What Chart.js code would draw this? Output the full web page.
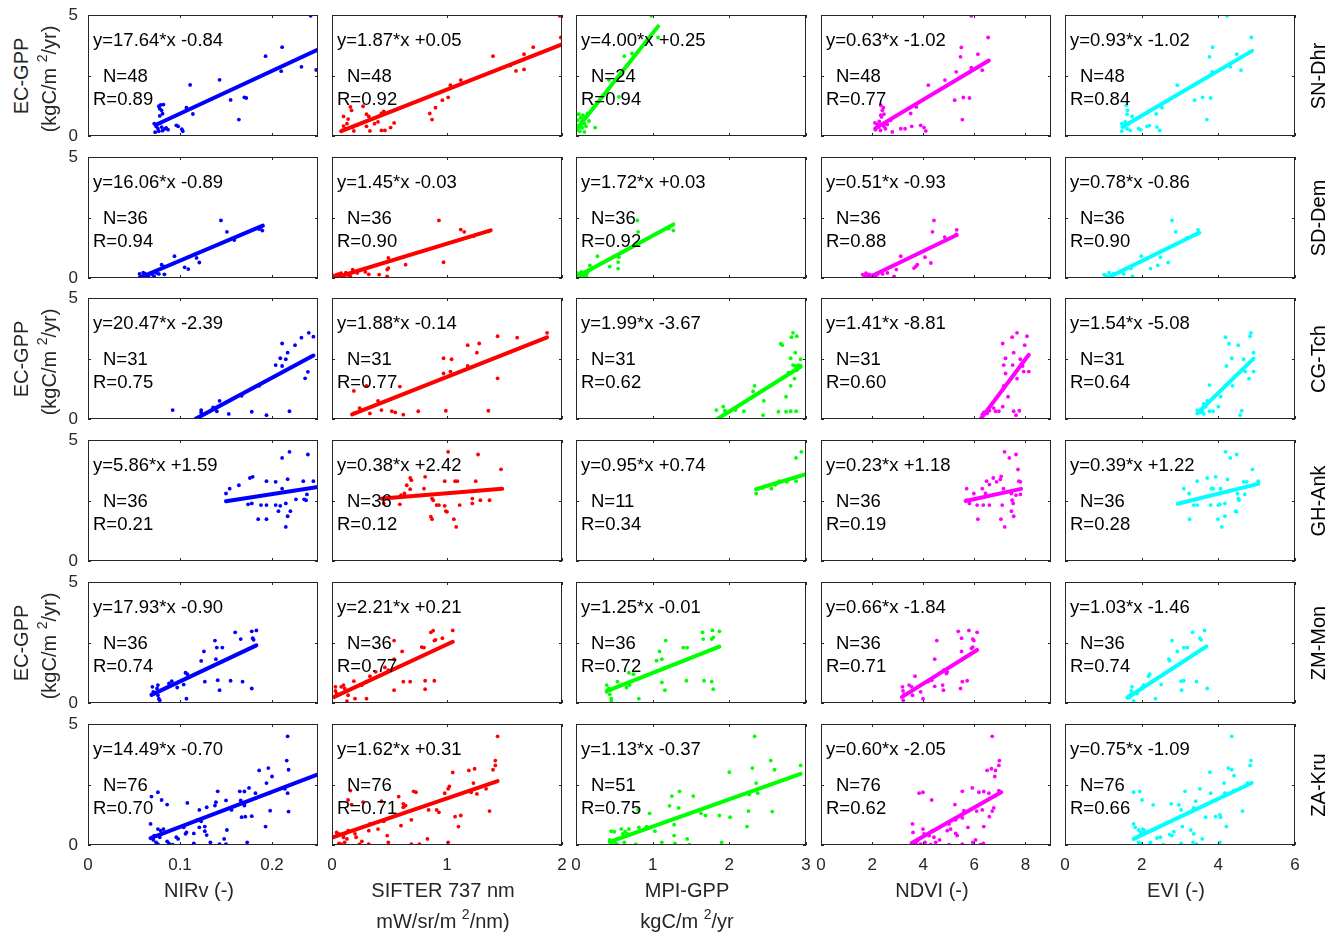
<!DOCTYPE html>
<html>
<head>
<meta charset="utf-8">
<title>EC-GPP vs satellite indices</title>
<script src="https://cdn.jsdelivr.net/npm/chart.js@4.4.1/dist/chart.umd.min.js"></script>
<style>
  html, body { margin: 0; padding: 0; background: #fff; }
  #fig { position: relative; width: 1340px; height: 936px; overflow: hidden;
         font-family: "Liberation Sans", Arial, Helvetica, sans-serif; color: #262626; }
  #fig canvas { position: absolute; pointer-events: none; }
  .lbl { position: absolute; white-space: nowrap; font-size: 20px; line-height: 1;
         transform: translate(-50%, -50%); }
  .rot { transform: translate(-50%, -50%) rotate(-90deg); }
  .lbl sup { font-size: 14px; vertical-align: 9px; line-height: 0; }
</style>
</head>
<body>
<div id="fig"></div>
<script>
// sites (rows) and predictors (columns)
var sites = ['SN-Dhr', 'SD-Dem', 'CG-Tch', 'GH-Ank', 'ZM-Mon', 'ZA-Kru'];
var xTitles = [
  ['NIRv (-)'],
  ['SIFTER 737 nm', 'mW/sr/m <sup>2</sup>/nm)'],
  ['MPI-GPP', 'kgC/m <sup>2</sup>/yr'],
  ['NDVI (-)'],
  ['EVI (-)']
];
var colors = ['#0000ff', '#ff0000', '#00ff00', '#ff00ff', '#00ffff'];

// axes
var xMax = [0.25, 2, 3, 9, 6];
var xTicks = [[0, 0.1, 0.2], [0, 1, 2], [0, 1, 2, 3], [0, 2, 4, 6, 8], [0, 2, 4, 6]];
var yTicks = [0, 2.5, 5];

// fit statistics per site (one value per column)
var slopes = [
  [17.64, 1.87, 4.00, 0.63, 0.93],
  [16.06, 1.45, 1.72, 0.51, 0.78],
  [20.47, 1.88, 1.99, 1.41, 1.54],
  [5.86, 0.38, 0.95, 0.23, 0.39],
  [17.93, 2.21, 1.25, 0.66, 1.03],
  [14.49, 1.62, 1.13, 0.60, 0.75]
];
var intercepts = [
  [-0.84, 0.05, 0.25, -1.02, -1.02],
  [-0.89, -0.03, 0.03, -0.93, -0.86],
  [-2.39, -0.14, -3.67, -8.81, -5.08],
  [1.59, 2.42, 0.74, 1.18, 1.22],
  [-0.90, 0.21, -0.01, -1.84, -1.46],
  [-0.70, 0.31, -0.37, -2.05, -1.09]
];
var nObs = [
  [48, 48, 24, 48, 48],
  [36, 36, 36, 36, 36],
  [31, 31, 31, 31, 31],
  [36, 36, 11, 36, 36],
  [36, 36, 36, 36, 36],
  [76, 76, 51, 76, 76]
];
var rVals = [
  [0.89, 0.92, 0.94, 0.77, 0.84],
  [0.94, 0.90, 0.92, 0.88, 0.90],
  [0.75, 0.77, 0.62, 0.60, 0.64],
  [0.21, 0.12, 0.34, 0.19, 0.28],
  [0.74, 0.77, 0.72, 0.71, 0.74],
  [0.70, 0.71, 0.75, 0.62, 0.66]
];
// x extent of each fitted line
var fitRange = [
  [[0.074, 0.25], [0.08, 2.0], [0.0, 1.07], [2.12, 6.57], [1.5, 4.88]],
  [[0.056, 0.19], [0.02, 1.38], [0.0, 1.27], [1.82, 5.31], [1.1, 3.5]],
  [[0.117, 0.245], [0.175, 1.87], [1.845, 2.93], [6.25, 8.13], [3.45, 4.92]],
  [[0.15, 0.25], [0.44, 1.48], [2.35, 3.0], [5.66, 7.83], [2.94, 5.04]],
  [[0.069, 0.183], [0.02, 1.05], [0.40, 1.87], [3.19, 6.11], [1.63, 3.69]],
  [[0.068, 0.25], [0.0, 1.44], [0.44, 2.93], [3.55, 7.05], [1.79, 4.87]]
];

// scatter points [x, EC-GPP], per site: NIRv, SIFTER, MPI-GPP, NDVI, EVI
var ptsSNDhr = [
  [[0.242,4.97],[0.211,3.67],[0.193,3.30],[0.210,2.68],[0.232,2.86],[0.248,2.73],[0.143,2.32],[0.111,2.11],[0.155,1.49],[0.170,1.60],[0.172,1.57],[0.164,0.68],[0.107,1.17],[0.107,1.06],[0.114,0.91],[0.077,1.23],[0.079,1.29],[0.082,1.30],[0.078,1.13],[0.080,1.06],[0.081,0.92],[0.078,0.83],[0.072,0.51],[0.074,0.40],[0.076,0.30],[0.073,0.16],[0.077,0.20],[0.080,0.37],[0.083,0.29],[0.087,0.26],[0.096,0.44],[0.098,0.40],[0.102,0.28],[0.103,0.20],[0.075,0.45],[0.079,0.55],[0.081,0.22],[0.085,0.33]],
  [[1.98,4.97],[1.99,4.07],[1.75,3.67],[1.67,3.38],[1.40,3.30],[1.55,2.91],[1.60,2.69],[1.67,2.75],[1.12,2.31],[1.03,2.10],[1.01,1.60],[0.96,1.48],[0.90,1.17],[0.85,0.93],[0.87,0.68],[0.54,0.54],[0.45,1.02],[0.43,0.93],[0.27,1.23],[0.30,0.90],[0.32,0.81],[0.16,1.20],[0.17,1.06],[0.10,0.81],[0.14,0.70],[0.13,0.51],[0.10,0.41],[0.18,0.37],[0.19,0.21],[0.09,0.23],[0.30,0.40],[0.33,0.21],[0.40,0.58],[0.43,0.23],[0.46,0.23],[0.51,0.35],[0.37,0.51],[0.12,0.30],[0.22,0.45]],
  [[0.98,4.97],[1.07,4.07],[0.63,3.30],[0.73,3.41],[0.43,2.31],[0.56,1.62],[0.25,0.35],[0.11,0.17],[0.01,0.90],[0.04,0.90],[0.09,0.86],[0.02,0.65],[0.07,0.58],[0.11,0.51],[0.01,0.44],[0.04,0.37],[0.13,0.40],[0.15,0.93],[0.17,0.62],[0.02,0.26],[0.08,0.34],[0.05,0.20],[0.10,0.70],[0.06,0.75]],
  [[5.88,4.97],[6.54,4.07],[5.49,3.66],[5.46,3.27],[6.14,3.38],[5.29,2.65],[5.88,2.82],[6.31,2.72],[4.85,2.31],[4.20,2.10],[5.23,1.48],[5.57,1.59],[5.81,1.57],[5.53,0.68],[3.73,1.20],[3.51,0.93],[2.34,1.27],[2.44,1.17],[2.40,1.06],[2.34,0.86],[2.46,0.90],[2.37,0.79],[2.11,0.54],[2.20,0.48],[2.26,0.37],[2.13,0.26],[2.33,0.23],[2.46,0.40],[2.59,0.48],[2.72,0.65],[2.79,0.17],[3.12,0.30],[3.29,0.30],[3.55,0.40],[3.90,0.44],[4.03,0.35],[4.10,0.21],[2.18,0.35],[2.28,0.60],[2.52,0.30]],
  [[4.23,4.97],[4.86,4.07],[3.85,3.67],[3.77,3.27],[4.48,3.38],[4.31,2.86],[4.59,2.72],[3.84,2.65],[2.93,2.10],[3.38,1.48],[3.59,1.60],[3.80,1.57],[3.70,0.68],[2.53,1.17],[2.38,0.91],[1.60,1.27],[1.63,1.06],[1.62,0.90],[1.75,0.81],[1.48,0.51],[1.54,0.40],[1.62,0.30],[1.48,0.20],[1.57,0.58],[1.70,0.23],[1.92,0.30],[1.97,0.26],[2.14,0.40],[2.20,0.43],[2.40,0.37],[2.47,0.23],[1.55,0.45],[1.66,0.50]]
];
var ptsSDDem = [
  [[0.1445,2.38],[0.151,1.91],[0.159,1.57],[0.188,2.10],[0.1895,1.96],[0.186,2.02],[0.094,0.90],[0.105,0.44],[0.109,0.37],[0.118,0.83],[0.121,0.64],[0.080,0.55],[0.082,0.48],[0.056,0.17],[0.058,0.07],[0.062,0.11],[0.066,0.03],[0.070,0.14],[0.074,0.21],[0.077,0.17],[0.060,0.22],[0.065,0.10],[0.072,0.06],[0.083,0.15],[0.057,0.02],[0.068,0.20],[0.062,0.18]],
  [[0.93,2.38],[1.12,2.00],[1.15,1.91],[1.23,1.73],[1.36,1.93],[0.97,0.65],[0.64,0.55],[0.49,0.83],[0.49,0.41],[0.48,0.35],[0.41,0.14],[0.48,0.07],[0.18,0.35],[0.22,0.21],[0.29,0.25],[0.01,0.11],[0.03,0.03],[0.06,0.17],[0.10,0.07],[0.13,0.14],[0.02,0.05],[0.05,0.10],[0.08,0.20],[0.15,0.10],[0.12,0.22],[0.04,0.14],[0.09,0.02],[0.16,0.06],[0.32,0.15]],
  [[0.80,2.38],[0.81,1.91],[1.21,2.04],[1.27,1.96],[0.28,0.90],[0.44,0.47],[0.55,0.39],[0.55,0.66],[0.56,0.86],[0.18,0.52],[0.17,0.35],[0.01,0.21],[0.03,0.11],[0.04,0.03],[0.08,0.17],[0.11,0.07],[0.13,0.14],[0.15,0.21],[0.01,0.00],[0.02,0.08],[0.06,0.20],[0.09,0.05],[0.12,0.25],[0.05,0.12],[0.14,0.02],[0.07,0.25],[0.02,0.16]],
  [[4.42,2.38],[4.36,1.91],[4.84,1.69],[5.31,1.99],[5.29,1.80],[3.12,0.90],[4.07,0.86],[4.30,0.62],[3.71,0.48],[3.64,0.41],[3.77,0.55],[2.95,0.35],[2.60,0.21],[2.86,0.07],[2.41,0.17],[1.63,0.14],[1.76,0.20],[1.82,0.07],[1.95,0.03],[2.08,0.10],[2.21,0.17],[1.70,0.08],[1.88,0.15],[2.00,0.12],[1.90,0.00],[2.15,0.05]],
  [[2.79,2.38],[2.89,1.91],[3.47,1.99],[3.43,1.80],[3.19,1.66],[1.99,0.90],[2.49,0.86],[2.69,0.64],[2.42,0.52],[2.23,0.39],[1.72,0.39],[1.76,0.07],[1.53,0.17],[1.44,0.25],[1.02,0.14],[1.07,0.07],[1.13,0.02],[1.22,0.10],[1.09,0.00],[1.27,0.18],[1.15,0.22],[1.05,0.12],[1.18,0.05]]
];
var ptsCGTch = [
  [[0.240,3.56],[0.245,3.40],[0.232,3.36],[0.211,3.12],[0.225,3.05],[0.217,2.74],[0.209,2.51],[0.215,2.47],[0.204,2.23],[0.211,2.19],[0.239,1.95],[0.236,1.68],[0.186,1.37],[0.167,0.96],[0.143,0.75],[0.145,0.59],[0.136,0.48],[0.140,0.32],[0.123,0.37],[0.123,0.27],[0.153,0.21],[0.178,0.30],[0.194,0.16],[0.219,0.32],[0.092,0.37]],
  [[1.87,3.56],[1.44,3.42],[1.61,3.36],[1.18,3.05],[1.28,3.12],[1.26,2.74],[0.97,2.51],[1.04,2.47],[1.18,2.19],[0.97,1.88],[1.03,1.96],[1.44,1.68],[0.59,1.34],[0.30,1.37],[0.19,1.16],[0.40,0.75],[0.24,0.45],[0.26,0.37],[0.33,0.23],[0.43,0.37],[0.52,0.32],[0.55,0.27],[0.62,0.18],[0.75,0.32],[0.99,0.34],[1.36,0.34],[0.19,0.23]],
  [[2.83,3.56],[2.81,3.38],[2.88,3.42],[2.67,3.11],[2.69,3.05],[2.86,2.74],[2.80,2.51],[2.93,2.47],[2.83,2.23],[2.86,2.19],[2.90,2.23],[2.93,2.19],[2.88,2.01],[2.77,1.92],[2.85,1.67],[2.80,1.37],[2.74,0.92],[2.33,1.37],[2.31,1.14],[2.45,0.75],[2.44,0.16],[2.64,0.30],[2.74,0.30],[2.80,0.32],[2.87,0.32],[2.19,0.32],[2.08,0.37],[1.92,0.51],[1.94,0.34],[1.83,0.37]],
  [[7.67,3.56],[7.48,3.38],[8.06,3.42],[7.11,3.12],[7.97,3.05],[7.54,2.74],[7.22,2.51],[7.80,2.47],[7.15,2.23],[7.50,2.23],[7.89,2.19],[7.22,1.88],[7.93,1.96],[8.13,1.96],[7.67,1.67],[7.15,1.37],[7.32,0.92],[7.11,0.51],[6.76,0.45],[6.83,0.32],[6.96,0.32],[6.59,0.34],[6.37,0.27],[6.31,0.18],[6.50,0.23],[7.54,0.32],[7.76,0.34],[7.63,0.16]],
  [[4.85,3.56],[4.83,3.42],[4.19,3.38],[4.28,3.11],[4.52,3.05],[4.35,2.51],[4.66,2.47],[4.21,2.19],[4.92,2.74],[4.92,1.96],[4.70,1.96],[4.80,1.67],[4.37,1.37],[3.77,1.40],[4.06,0.92],[3.71,0.75],[3.62,0.62],[3.67,0.51],[3.58,0.34],[3.62,0.21],[3.77,0.32],[3.86,0.32],[4.00,0.51],[3.45,0.37],[3.54,0.27],[4.61,0.34],[4.57,0.16]]
];
var ptsGHAnk = [
  [[0.219,4.51],[0.211,4.26],[0.239,4.40],[0.150,2.79],[0.154,2.99],[0.164,3.13],[0.176,3.43],[0.179,3.48],[0.194,3.30],[0.204,3.27],[0.217,3.38],[0.234,3.30],[0.245,3.30],[0.211,2.99],[0.238,2.75],[0.226,2.55],[0.235,2.55],[0.237,2.51],[0.174,2.34],[0.178,2.38],[0.188,2.31],[0.194,2.31],[0.204,2.31],[0.209,2.28],[0.215,2.38],[0.207,2.06],[0.220,2.06],[0.185,1.73],[0.194,1.73],[0.217,1.85],[0.215,1.41]],
  [[1.01,4.51],[1.27,4.40],[1.47,3.79],[0.81,3.48],[0.68,3.43],[0.69,3.34],[0.65,3.13],[0.80,2.99],[0.68,2.97],[0.98,3.30],[1.07,3.30],[1.09,3.30],[1.25,3.30],[0.63,2.79],[0.60,2.72],[0.43,2.58],[0.45,2.38],[0.59,2.34],[0.87,2.58],[0.88,2.51],[0.91,2.31],[0.93,2.31],[0.98,2.28],[1.11,2.31],[1.22,2.58],[1.22,2.38],[1.29,2.51],[1.37,2.51],[0.99,2.06],[1.00,2.03],[0.86,1.83],[0.87,1.73],[1.06,1.73],[1.08,1.41]],
  [[2.94,4.51],[2.87,4.26],[2.87,3.30],[2.35,2.79],[2.38,2.99],[2.43,3.02],[2.55,2.99],[2.47,3.09],[2.65,3.30],[2.75,3.27],[2.60,3.15]],
  [[7.18,4.51],[7.37,4.26],[7.63,4.40],[7.71,3.78],[7.74,3.30],[7.80,3.27],[6.48,3.30],[6.74,3.43],[6.87,3.27],[7.05,3.50],[7.02,3.37],[6.31,2.99],[6.59,3.16],[7.14,2.99],[6.44,2.79],[5.98,2.79],[5.70,2.99],[7.45,2.79],[7.63,2.72],[7.80,2.75],[5.70,2.51],[5.81,2.38],[6.11,2.31],[6.35,2.31],[6.59,2.31],[7.09,2.31],[7.48,2.51],[7.52,2.38],[7.45,2.06],[7.54,1.85],[6.14,1.73],[7.04,1.73],[7.19,1.41]],
  [[4.19,4.51],[4.31,4.26],[4.48,4.40],[4.89,3.79],[3.45,3.30],[3.71,3.43],[3.93,3.48],[4.24,3.37],[4.66,3.27],[4.74,3.27],[5.04,3.30],[3.10,2.99],[3.24,2.79],[3.82,2.99],[3.87,2.99],[4.06,2.99],[4.50,2.79],[4.69,2.75],[3.36,2.31],[3.45,2.31],[3.80,2.31],[4.00,2.31],[4.04,2.34],[4.17,2.38],[4.54,2.51],[4.52,2.58],[4.45,2.06],[4.48,2.03],[3.25,1.73],[3.99,1.73],[4.17,1.85],[4.09,1.41]]
];
var ptsZMMon = [
  [[0.183,3.00],[0.178,2.96],[0.179,2.68],[0.180,2.61],[0.160,2.92],[0.166,2.64],[0.138,2.58],[0.140,2.29],[0.146,2.29],[0.126,2.13],[0.139,1.81],[0.123,1.74],[0.106,1.25],[0.108,1.19],[0.104,0.76],[0.097,0.64],[0.091,0.90],[0.088,0.81],[0.076,0.74],[0.075,0.60],[0.070,0.67],[0.071,0.46],[0.070,0.36],[0.076,0.32],[0.077,0.18],[0.078,0.11],[0.107,0.18],[0.127,0.88],[0.141,0.94],[0.143,0.53],[0.155,0.92],[0.168,0.88],[0.178,0.60]],
  [[1.05,3.00],[0.88,2.99],[0.86,2.92],[0.96,2.68],[0.90,2.61],[0.89,2.58],[0.54,2.58],[0.78,2.31],[0.80,2.29],[0.61,2.13],[0.54,1.81],[0.46,1.47],[0.49,1.36],[0.38,1.29],[0.33,1.11],[0.30,0.88],[0.62,0.88],[0.68,0.88],[0.81,0.92],[0.89,0.92],[0.81,0.57],[0.54,0.53],[0.19,0.90],[0.10,0.74],[0.08,0.67],[0.11,0.60],[0.03,0.67],[0.03,0.50],[0.04,0.39],[0.14,0.32],[0.13,0.08],[0.20,0.18],[0.30,0.18],[0.26,0.74]],
  [[1.78,3.00],[1.87,2.96],[1.65,2.92],[1.77,2.64],[1.79,2.71],[1.66,2.64],[1.17,2.58],[1.40,2.29],[1.45,2.29],[1.09,2.13],[1.05,1.75],[1.12,1.81],[0.69,1.25],[0.75,1.19],[1.12,0.85],[1.16,0.53],[1.44,0.92],[1.67,0.92],[1.77,0.88],[1.79,0.57],[0.54,0.88],[0.66,0.64],[0.70,0.74],[0.40,0.74],[0.43,0.60],[0.45,0.53],[0.40,0.46],[0.44,0.36],[0.46,0.18],[0.46,0.08],[0.42,0.55],[0.82,0.18]],
  [[5.37,2.96],[5.79,3.00],[6.11,2.92],[5.94,2.64],[5.98,2.58],[5.50,2.68],[5.94,2.31],[5.89,2.26],[4.53,2.58],[5.50,2.13],[4.45,1.81],[4.81,1.36],[4.91,1.22],[4.94,1.29],[3.68,1.11],[4.33,0.94],[4.19,0.88],[4.76,0.74],[4.79,0.53],[4.45,0.69],[5.53,0.88],[5.72,0.92],[5.46,0.60],[3.90,0.46],[3.99,0.18],[3.55,0.67],[3.58,0.32],[3.19,0.67],[3.21,0.50],[3.25,0.36],[3.16,0.25],[3.22,0.11],[3.45,0.74]],
  [[3.33,2.92],[3.64,3.00],[3.52,2.68],[3.55,2.61],[2.79,2.58],[3.10,2.29],[3.19,2.29],[2.93,2.13],[2.71,1.81],[2.73,1.75],[2.18,1.11],[2.21,1.19],[2.51,0.76],[2.36,0.18],[3.03,0.90],[3.10,0.92],[3.04,0.53],[3.43,0.88],[3.71,0.60],[2.05,0.74],[2.01,0.64],[1.75,0.67],[1.73,0.50],[1.72,0.36],[1.69,0.25],[1.79,0.08],[1.88,0.39],[1.63,0.22],[1.66,0.28]]
];
var ptsZAKru = [
  [[0.217,4.49],[0.216,3.49],[0.218,3.11],[0.217,2.14],[0.218,1.38],[0.186,3.08],[0.196,3.18],[0.200,2.83],[0.194,2.56],[0.175,2.36],[0.165,2.22],[0.170,2.21],[0.182,2.14],[0.197,2.14],[0.214,2.32],[0.166,1.84],[0.170,1.70],[0.170,1.63],[0.198,1.42],[0.167,1.15],[0.171,1.17],[0.178,1.19],[0.193,0.76],[0.156,1.45],[0.150,1.84],[0.139,1.77],[0.138,1.63],[0.141,2.22],[0.129,1.56],[0.121,1.45],[0.108,1.74],[0.119,1.04],[0.123,0.98],[0.127,0.76],[0.107,0.52],[0.115,0.48],[0.129,0.41],[0.133,0.11],[0.143,0.04],[0.148,0.25],[0.150,0.04],[0.173,0.11],[0.115,0.07],[0.096,0.32],[0.098,0.25],[0.092,0.01],[0.088,0.07],[0.086,1.67],[0.076,2.18],[0.080,1.86],[0.069,2.00],[0.068,0.87],[0.076,0.66],[0.079,0.59],[0.082,0.66],[0.084,0.52],[0.080,0.46],[0.071,0.21],[0.074,0.11],[0.076,0.04],[0.086,0.15],[0.072,0.39],[0.078,0.32],[0.104,0.73],[0.106,0.46],[0.121,0.73],[0.127,0.57],[0.151,0.62]],
  [[1.44,4.49],[1.42,3.49],[1.42,3.29],[1.40,3.11],[1.19,3.08],[1.24,3.15],[1.05,3.00],[1.23,2.56],[1.34,2.32],[1.26,2.11],[1.21,2.18],[0.98,2.14],[1.01,2.32],[1.02,2.42],[0.71,2.22],[0.73,2.18],[0.58,2.00],[0.62,1.70],[0.64,1.63],[0.62,1.56],[0.43,1.81],[0.84,1.45],[0.91,1.45],[0.93,1.35],[1.07,1.17],[1.12,1.22],[1.37,1.40],[1.10,0.76],[0.60,0.80],[0.48,0.39],[0.49,0.11],[0.40,0.66],[0.32,0.59],[0.32,0.04],[0.19,0.59],[0.20,0.46],[0.21,0.32],[0.16,2.25],[0.14,1.86],[0.17,1.67],[0.27,1.77],[0.69,0.04],[0.76,0.04],[0.83,0.25],[1.01,0.11],[0.69,1.04],[0.10,0.32],[0.11,0.11],[0.08,0.04],[0.06,0.07],[0.13,0.25],[0.04,0.52],[0.06,0.46],[0.11,0.46],[0.14,0.59],[0.24,0.04],[0.26,0.15],[0.33,0.87],[0.45,0.98]],
  [[2.33,4.49],[2.54,3.49],[2.59,3.11],[2.30,3.18],[2.93,3.29],[2.00,3.01],[2.35,2.56],[2.26,2.09],[2.37,2.14],[2.56,1.38],[2.25,1.40],[2.23,0.76],[1.90,0.11],[2.01,1.15],[1.87,1.22],[1.69,1.22],[1.63,1.31],[1.53,2.02],[1.35,2.22],[1.25,2.02],[1.22,1.62],[1.34,1.53],[0.96,1.31],[0.81,1.45],[1.28,0.84],[1.28,0.39],[1.29,0.07],[1.45,0.25],[1.48,0.01],[1.12,0.11],[1.03,0.57],[0.92,0.76],[0.82,0.73],[0.78,0.04],[0.69,0.66],[0.67,0.46],[0.64,0.55],[0.61,0.46],[0.59,0.66],[0.46,0.57],[0.50,0.55],[0.52,0.07],[0.49,0.15],[0.54,0.01],[0.63,0.11],[0.44,0.21],[0.47,0.11]],
  [[6.70,4.49],[6.98,3.49],[6.96,3.29],[6.83,3.08],[6.67,3.15],[6.50,3.08],[6.80,2.83],[5.53,2.22],[5.92,2.36],[6.18,2.18],[6.37,2.21],[6.57,2.14],[6.96,2.25],[7.02,2.18],[4.33,1.86],[3.99,2.18],[3.84,2.14],[5.24,1.67],[5.59,1.42],[5.76,1.40],[6.09,1.40],[6.31,1.45],[6.59,1.17],[6.70,1.40],[6.76,1.53],[6.37,0.76],[5.75,0.73],[5.01,0.87],[5.07,0.66],[5.27,0.48],[5.33,0.39],[4.94,0.59],[3.58,0.87],[3.60,0.52],[3.99,0.66],[4.03,0.46],[4.23,0.39],[4.36,0.59],[4.42,0.32],[4.49,0.11],[3.77,0.18],[3.90,0.04],[4.07,0.11],[4.29,0.01],[3.71,0.07],[4.64,0.21],[5.01,0.01],[5.53,0.04],[5.94,0.11],[6.05,0.21],[6.24,0.01],[6.35,0.07],[5.53,1.12],[5.27,1.04]],
  [[4.35,4.49],[4.85,3.49],[4.83,3.29],[4.26,3.18],[4.35,3.11],[3.78,3.01],[4.41,2.87],[4.15,2.56],[3.52,2.32],[3.13,2.22],[3.80,2.14],[4.17,2.14],[4.41,2.25],[4.76,2.56],[1.79,2.18],[1.95,2.22],[2.01,1.86],[2.30,1.66],[2.77,1.70],[2.97,1.66],[3.41,1.81],[3.36,1.53],[3.03,1.45],[3.67,1.15],[3.93,1.17],[4.04,1.24],[4.06,1.15],[4.63,1.40],[4.21,0.76],[3.06,0.76],[2.84,0.55],[2.73,0.43],[2.79,0.39],[2.49,0.32],[2.40,0.29],[2.03,0.66],[2.07,0.59],[1.98,0.52],[1.79,0.87],[1.83,0.73],[1.92,0.62],[1.92,0.11],[1.98,0.07],[2.21,0.01],[2.23,0.11],[2.56,0.01],[3.03,0.07],[3.34,0.11],[3.43,0.04],[3.58,0.25],[4.04,0.11],[3.28,0.62],[3.36,0.46]]
];
var points = [ptsSNDhr, ptsSDDem, ptsCGTch, ptsGHAnk, ptsZMMon, ptsZAKru];

// layout (pixels)
var colLeft = [88, 332, 576, 821, 1065];
var rowTop = [15, 157, 298, 440, 582, 724];
var panelW = 230, panelH = 121;
// margins big enough that tick-label padding never moves the plot area
var padL = 40, padT = 26, padR = 26, padB = 34;
var FONT = '"Liberation Sans", Arial, Helvetica, sans-serif';

var fig = document.getElementById('fig');

function eqText(s, b) {
  return 'y=' + s.toFixed(2) + '*x ' + (b < 0 ? '-' : '+') + Math.abs(b).toFixed(2);
}

// box, inward tick marks on all sides, and the fit annotation
var panelDeco = {
  id: 'panelDeco',
  afterDatasetsDraw: function (chart, args, o) {
    var ctx = chart.ctx, a = chart.chartArea, sx = chart.scales.x, sy = chart.scales.y;
    ctx.save();
    ctx.strokeStyle = '#262626';
    ctx.lineWidth = 1;
    ctx.beginPath();
    sx.ticks.forEach(function (t) {
      var px = Math.round(sx.getPixelForValue(t.value)) + 0.5;
      ctx.moveTo(px, a.bottom); ctx.lineTo(px, a.bottom - 3);
      ctx.moveTo(px, a.top); ctx.lineTo(px, a.top + 3);
    });
    sy.ticks.forEach(function (t) {
      var py = Math.round(sy.getPixelForValue(t.value)) + 0.5;
      ctx.moveTo(a.left, py); ctx.lineTo(a.left + 3, py);
      ctx.moveTo(a.right, py); ctx.lineTo(a.right - 3, py);
    });
    ctx.stroke();
    ctx.strokeRect(a.left + 0.5, a.top + 0.5, a.width - 1, a.height - 1);

    ctx.fillStyle = '#000';
    ctx.font = '18.5px ' + FONT;
    ctx.textBaseline = 'middle';
    ctx.textAlign = 'left';
    ctx.fillText(o.eq, a.left + 5, a.top + 26);
    ctx.fillText('N=' + o.n, a.left + 15, a.top + 62);
    ctx.fillText('R=' + o.r.toFixed(2), a.left + 5, a.top + 85);
    ctx.restore();
  }
};

function makePanel(row, col) {
  var cv = document.createElement('canvas');
  var w = padL + panelW + padR, h = padT + panelH + padB;
  cv.width = w; cv.height = h;
  cv.style.width = w + 'px'; cv.style.height = h + 'px';
  cv.style.left = (colLeft[col] - padL) + 'px';
  cv.style.top = (rowTop[row] - padT) + 'px';
  fig.appendChild(cv);

  var s = slopes[row][col], b = intercepts[row][col], fr = fitRange[row][col];
  var fitLine = fr.map(function (x) { return { x: x, y: s * x + b }; });
  var pts = points[row][col].map(function (p) { return { x: p[0], y: p[1] }; });
  var c = colors[col];

  new Chart(cv, {
    type: 'scatter',
    data: {
      datasets: [
        { data: fitLine, showLine: true, borderColor: c, borderWidth: 4,
          borderCapStyle: 'round', pointRadius: 0, clip: 0 },
        { data: pts, backgroundColor: c, borderColor: c, borderWidth: 0,
          pointRadius: 1.9, pointHoverRadius: 1.9 }
      ]
    },
    options: {
      responsive: false,
      animation: false,
      devicePixelRatio: 1,
      events: [],
      layout: { padding: { left: 0, top: padT, right: padR, bottom: 0 } },
      plugins: {
        legend: { display: false },
        tooltip: { enabled: false },
        panelDeco: { eq: eqText(s, b), n: nObs[row][col], r: rVals[row][col] }
      },
      scales: {
        x: {
          type: 'linear', min: 0, max: xMax[col],
          grid: { display: false, drawTicks: false },
          border: { display: false },
          afterBuildTicks: function (sc) { sc.ticks = xTicks[col].map(function (v) { return { value: v }; }); },
          afterFit: function (sc) { sc.height = padB; },
          ticks: {
            display: row === sites.length - 1,
            autoSkip: false, maxRotation: 0, minRotation: 0, padding: 10,
            color: '#262626', font: { family: FONT, size: 17 },
            callback: function (v) { return String(v); }
          }
        },
        y: {
          type: 'linear', min: 0, max: 5,
          grid: { display: false, drawTicks: false },
          border: { display: false },
          afterBuildTicks: function (sc) { sc.ticks = yTicks.map(function (v) { return { value: v }; }); },
          afterFit: function (sc) { sc.width = padL; },
          ticks: {
            display: col === 0,
            autoSkip: false, padding: 10,
            color: '#262626', font: { family: FONT, size: 17 },
            callback: function (v) { return v === 2.5 ? '' : String(v); }
          }
        }
      }
    },
    plugins: [panelDeco]
  });
}

function addLabel(html, x, y, rotated, color) {
  var d = document.createElement('div');
  d.className = 'lbl' + (rotated ? ' rot' : '');
  d.innerHTML = html;
  d.style.left = x + 'px';
  d.style.top = y + 'px';
  if (color) d.style.color = color;
  fig.appendChild(d);
}

if (typeof Chart !== 'undefined') {
  for (var r = 0; r < sites.length; r++) {
    for (var k = 0; k < colLeft.length; k++) makePanel(r, k);
  }
}

// site names on the right
sites.forEach(function (name, r) {
  addLabel(name, 1318, rowTop[r] + panelH / 2, true, '#000');
});
// y label on rows 1, 3, 5
[0, 2, 4].forEach(function (r) {
  var cy = rowTop[r] + panelH / 2;
  addLabel('EC-GPP', 21, cy, true);
  addLabel('(kgC/m <sup>2</sup>/yr)', 49, cy + 3, true);
});
// x titles under the bottom row
xTitles.forEach(function (lines, k) {
  var cx = colLeft[k] + panelW / 2;
  lines.forEach(function (t, i) { addLabel(t, cx - 4, 890 + i * 31, false); });
});
</script>
</body>
</html>
